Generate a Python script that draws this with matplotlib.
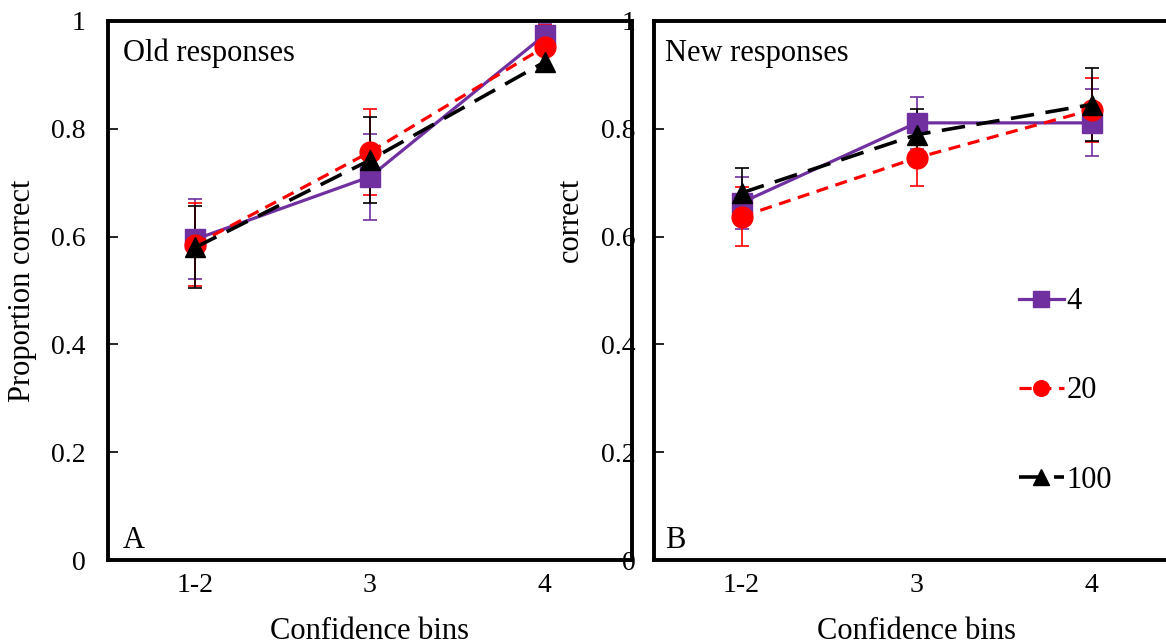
import matplotlib
matplotlib.use("Agg")
import matplotlib.pyplot as plt
import numpy as np

plt.rcParams['font.family'] = ['Liberation Serif', 'DejaVu Serif']

categories = ['1-2', '3', '4']
series_labels = ['4', '20', '100']

old_4 = [0.595, 0.711, 0.974]
old_4_err = [0.074, 0.08, 0.02]
old_20 = [0.585, 0.757, 0.952]
old_20_err = [0.077, 0.08, 0.04]
old_100 = [0.580, 0.742, 0.924]
old_100_err = [0.076, 0.08, 0.018]

new_4 = [0.663, 0.811, 0.811]
new_4_err = [0.048, 0.048, 0.062]
new_20 = [0.637, 0.746, 0.835]
new_20_err = [0.055, 0.053, 0.06]
new_100 = [0.681, 0.789, 0.845]
new_100_err = [0.047, 0.048, 0.068]

yticks = [0, 0.2, 0.4, 0.6, 0.8, 1]
ytick_labels = ['0', '0.2', '0.4', '0.6', '0.8', '1']

W, H = 1166, 644
fig = plt.figure(figsize=(W / 100, H / 100), dpi=100)

styles = [
    dict(color='#7030A0', marker='s', linestyle='-', lw=2.3, ms=15),
    dict(color='#FF0000', marker='o', linestyle=(0, (3.8, 2.4)), lw=2.3, ms=15),
    dict(color='#000000', marker='^', linestyle=(0, (6.5, 3.2)), lw=2.6, ms=15),
]

FS_T = 20
FS = 22

def setup(ax, pad):
    ax.set_xlim(0.5, 3.5)
    ax.set_ylim(0, 1)
    ax.set_xticks([1, 2, 3])
    ax.set_xticklabels(categories, fontsize=FS_T)
    ax.set_yticks(yticks)
    ax.set_yticklabels(ytick_labels, fontsize=FS_T)
    ax.tick_params(axis='y', direction='in', length=7, width=1.2, pad=pad)
    ax.tick_params(axis='x', length=0, pad=9)
    for s in ax.spines.values():
        s.set_linewidth(2.8)
    ax.set_xlabel('Confidence bins', fontsize=FS)
    ax.xaxis.set_label_coords(0.5, -0.133)
    ax.xaxis.label.set_va('center')

def draw(ax, data):
    x = np.arange(1, len(categories) + 1)
    handles = []
    for (vals, errs), st, lab in zip(data, styles, series_labels):
        eb = ax.errorbar(x, vals, yerr=errs, color=st['color'], marker=st['marker'],
                         linestyle=st['linestyle'], lw=st['lw'], ms=st['ms'],
                         elinewidth=1.2, capsize=5, capthick=1.2, label=lab)
        handles.append(eb)
    return handles

ax1 = fig.add_axes([108 / W, 1 - 560 / H, 524 / W, 539 / H])
setup(ax1, 16)
draw(ax1, [(old_4, old_4_err), (old_20, old_20_err), (old_100, old_100_err)])
ax1.set_ylabel('Proportion correct', fontsize=FS)
ax1.yaxis.set_label_coords(-0.164, 0.5)
ax1.yaxis.label.set_va('center')
ax1.text((123 - 108) / 524, 1 - (53 - 21) / 539, 'Old responses', transform=ax1.transAxes,
         fontsize=FS, va='center', ha='left')
ax1.text((123 - 108) / 524, (560 - 540) / 539, 'A', transform=ax1.transAxes,
         fontsize=FS, va='center', ha='left')

ax2 = fig.add_axes([654 / W, 1 - 560 / H, 525 / W, 539 / H])
setup(ax2, 13)
handles = draw(ax2, [(new_4, new_4_err), (new_20, new_20_err), (new_100, new_100_err)])
ax2.text((665 - 654) / 525, 1 - (53 - 21) / 539, 'New responses', transform=ax2.transAxes,
         fontsize=FS, va='center', ha='left')
ax2.text((665 - 654) / 525, (560 - 540) / 539, 'B', transform=ax2.transAxes,
         fontsize=FS, va='center', ha='left')

leg = ax2.legend(handles=[h[0] for h in handles], labels=series_labels,
                 loc='upper left', bbox_to_anchor=(1004 / W, 1 - 272 / H),
                 bbox_transform=fig.transFigure, frameon=False, fontsize=FS,
                 handlelength=1.45, handletextpad=0.1, labelspacing=1.97,
                 markerscale=0.75, borderpad=0)

fig.text(570 / W, 1 - 220 / H, 'correct', rotation=90, fontsize=FS,
         ha='center', va='center')

fig.savefig('out.png', dpi=100, facecolor='white')
